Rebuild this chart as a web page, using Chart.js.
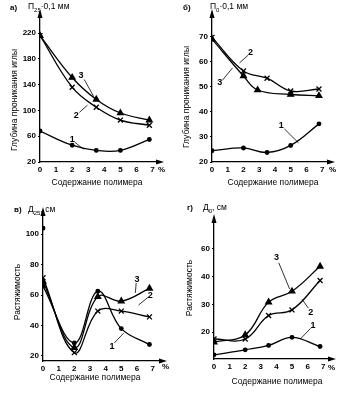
<!DOCTYPE html>
<html><head><meta charset="utf-8">
<script src="https://cdn.jsdelivr.net/npm/chart.js@4"></script>
<style>
body{margin:0;background:#fff;width:359px;height:395px;position:relative;overflow:hidden}
canvas{position:absolute}
</style></head><body>
<canvas id="ca" width="180" height="197" style="left:0;top:0"></canvas>
<canvas id="cb" width="179" height="197" style="left:180px;top:0"></canvas>
<canvas id="cv" width="180" height="198" style="left:0;top:197px"></canvas>
<canvas id="cg" width="179" height="198" style="left:180px;top:197px"></canvas>
<script>
// ---- data ----
const xPoly = [0, 2, 3.5, 5, 6.8];
const xTicks = [0, 1, 2, 3, 4, 5, 6, 7];

// a) П25
const a1 = [68, 46, 38, 38, 55];
const a2 = [216, 136, 105, 85, 77];
const a3 = [216, 151, 117, 96, 85];
const aTicks = [20, 60, 100, 140, 180, 220];

// б) П0
const b1 = [24.5, 25.6, 23.8, 26.6, 35.2];
const b2 = [69.7, 56.3, 53.4, 48.3, 49.1];
const xB3 = [0, 2, 2.9, 5, 6.8];
const b3 = [69, 54.3, 48.7, 46.9, 46.4];
const bTicks = [20, 30, 40, 50, 60, 70];

// в) Д25
const v1 = [66, 28.6, 62.6, 38, 27.5];
const v1Start = 104;
const v2 = [71.4, 22.2, 49.5, 49.5, 45.7];
const v3 = [69, 25.5, 59, 56, 64.4];
const vTicks = [20, 40, 60, 80, 100];

// г) Д0
const g1 = [11.8, 13.6, 15.2, 18.1, 14.8];
const g2 = [17.5, 17.5, 26, 28, 38.6];
const g3 = [16.4, 19, 30.8, 34.7, 43.7];
const gTickVals = [20, 30, 40, 50];
const gTickLabels = ['20', '30', '40', '60'];

const pts = (xs, ys) => xs.map((x, i) => ({x, y: ys[i]}));
const FONT = '"Liberation Sans", Arial, sans-serif';

function ds(data, style, line = true) {
  const st = {
    1: {pointStyle: 'circle', pointRadius: 1.8},
    2: {pointStyle: 'crossRot', pointRadius: 3.5},
    3: {pointStyle: 'triangle', pointRadius: 3.3}
  }[style];
  return Object.assign({
    data, showLine: line, borderColor: '#000', backgroundColor: '#000',
    borderWidth: 1.3, tension: 0.4, pointBorderColor: '#000',
    pointBackgroundColor: '#000', pointBorderWidth: 1.3
  }, st);
}

const deco = {
  id: 'deco',
  afterDraw(chart) {
    const o = chart.options.plugins.deco;
    const c = chart.ctx, ca = chart.chartArea;
    const xs = chart.scales.x, ys = chart.scales.y;
    c.save();
    c.strokeStyle = '#000'; c.fillStyle = '#000'; c.lineWidth = 1.3;
    // arrows
    c.beginPath();
    c.moveTo(ca.left, ca.top - 6); c.lineTo(ca.left - 2.5, ca.top + 3); c.lineTo(ca.left + 2.5, ca.top + 3); c.closePath(); c.fill();
    c.beginPath(); c.moveTo(ca.left, ca.top); c.lineTo(ca.left, ca.top - 3); c.stroke();
    c.beginPath();
    c.moveTo(ca.right + 5, ca.bottom); c.lineTo(ca.right - 3, ca.bottom - 2.5); c.lineTo(ca.right - 3, ca.bottom + 2.5); c.closePath(); c.fill();
    // leaders and curve numbers
    c.lineWidth = 0.8;
    c.font = 'bold 9px ' + FONT; c.textAlign = 'center'; c.textBaseline = 'middle';
    for (const L of o.labels) {
      const lx = xs.getPixelForValue(L.at[0]), ly = ys.getPixelForValue(L.at[1]);
      c.fillText(L.t, lx, ly);
      if (L.to) {
        const fx = xs.getPixelForValue(L.from[0]), fy = ys.getPixelForValue(L.from[1]);
        const tx = xs.getPixelForValue(L.to[0]), ty = ys.getPixelForValue(L.to[1]);
        c.beginPath(); c.moveTo(fx, fy); c.lineTo(tx, ty); c.stroke();
      }
    }
    // percent
    c.font = 'bold 8px ' + FONT; c.textAlign = 'left';
    c.fillText('%', o.pct[0], o.pct[1]);
    // x title
    c.font = '8.5px ' + FONT; c.textAlign = 'center';
    c.fillText('Содержание полимера', o.xt[0], o.xt[1]);
    // y title
    c.save(); c.translate(o.yt[0], o.yt[1]); c.rotate(-Math.PI / 2);
    c.font = '8.5px ' + FONT; c.fillText(o.ytitle, 0, 0); c.restore();
    // panel label
    c.textAlign = 'left';
    c.font = 'bold 8px ' + FONT;
    c.fillText(o.panel, o.pl[0], o.pl[1]);
    let x = o.ql[0];
    c.font = '8.5px ' + FONT;
    c.fillText(o.q[0], x, o.ql[1]); x += c.measureText(o.q[0]).width;
    c.font = '6px ' + FONT;
    c.fillText(o.q[1], x, o.ql[1] + 3); x += c.measureText(o.q[1]).width;
    c.font = '8.5px ' + FONT;
    c.fillText(o.q[2], x, o.ql[1]);
    c.restore();
  }
};

function make(id, datasets, cfg) {
  return new Chart(document.getElementById(id), {
    type: 'scatter',
    data: {datasets},
    plugins: [deco],
    options: {
      responsive: false, animation: false, devicePixelRatio: 1,
      layout: {padding: cfg.pad},
      plugins: {legend: {display: false}, tooltip: {enabled: false}, deco: cfg.deco},
      scales: {
        x: {
          type: 'linear', min: 0, max: cfg.xmax,
          afterFit: s => { s.height = cfg.xh; },
          afterBuildTicks: s => { s.ticks = xTicks.map(v => ({value: v})); },
          ticks: {color: '#000', font: {size: 8, weight: 'bold', family: FONT}, padding: 3,
                  callback: v => String(v)},
          grid: {display: false, drawOnChartArea: false, drawTicks: false, tickLength: 0},
          border: {color: '#000', width: 1.3}
        },
        y: {
          type: 'linear', min: cfg.ymin, max: cfg.ymax,
          afterFit: s => { s.width = cfg.yw; },
          afterBuildTicks: s => { s.ticks = cfg.yticks.map(v => ({value: v})); },
          ticks: {color: '#000', font: {size: 8, weight: 'bold', family: FONT}, padding: 2,
                  callback: cfg.ycb || (v => String(v))},
          grid: {display: true, drawOnChartArea: false, tickLength: 2, color: '#000', lineWidth: 1},
          border: {color: '#000', width: 1.3}
        }
      }
    }
  });
}

make('ca', [ds(pts(xPoly, a1), 1), ds(pts(xPoly, a2), 2), ds(pts(xPoly, a3), 3)], {
  pad: {left: 0, top: 15, right: 21, bottom: 0}, xh: 35, yw: 40,
  xmax: 7.4, ymin: 20, ymax: 248, yticks: aTicks,
  deco: {
    labels: [
      {t: '3', at: [2.55, 154], from: [2.75, 148], to: [3.35, 121]},
      {t: '2', at: [2.25, 92], from: [2.45, 97], to: [2.95, 108]},
      {t: '1', at: [2.0, 55], from: [2.15, 51], to: [2.7, 40]}
    ],
    pct: [158, 170], xt: [97, 183], yt: [15, 100], ytitle: 'Глубина проникания иглы',
    panel: 'а)', pl: [10, 8], q: ['П', '25', '·0,1 мм'], ql: [28, 7]
  }
});

make('cb', [ds(pts(xPoly, b1), 1), ds(pts(xPoly, b2), 2), ds(pts(xB3, b3), 3)], {
  pad: {left: 0, top: 15, right: 29, bottom: 0}, xh: 35, yw: 32,
  xmax: 7.5, ymin: 20, ymax: 78.6, yticks: bTicks,
  deco: {
    labels: [
      {t: '2', at: [2.45, 63.6], from: [2.3, 62.6], to: [1.75, 59.5]},
      {t: '3', at: [0.5, 51.5], from: [0.65, 52.5], to: [1.3, 57.5]},
      {t: '1', at: [4.4, 34.5], from: [4.6, 33.2], to: [5.5, 27.6]}
    ],
    pct: [149, 170], xt: [93, 183], yt: [7, 97], ytitle: 'Глубина проникания иглы',
    panel: 'б)', pl: [3, 8], q: ['П', '0', '·0,1 мм'], ql: [30, 7]
  }
});

make('cv', [ds(pts(xPoly, v1), 1), ds(pts(xPoly, v2), 2), ds(pts(xPoly, v3), 3),
            ds([{x: 0, y: v1Start}], 1, false)], {
  pad: {left: 0, top: 16, right: 18, bottom: 0}, xh: 34, yw: 43,
  xmax: 7.6, ymin: 16.7, ymax: 114, yticks: vTicks,
  deco: {
    labels: [
      {t: '3', at: [6.0, 70], from: [5.95, 68], to: [5.9, 61.5]},
      {t: '2', at: [6.85, 60], from: [6.7, 58.5], to: [6.1, 53.5]},
      {t: '1', at: [4.4, 26.5], from: [4.55, 28.5], to: [5.15, 35]}
    ],
    pct: [162, 170], xt: [95, 181], yt: [18, 95], ytitle: 'Растяжимость',
    panel: 'в)', pl: [14, 13], q: ['Д', '25', ', см'], ql: [28, 13]
  }
});

make('cg', [ds(pts(xPoly, g1), 1), ds(pts(xPoly, g2), 2), ds(pts(xPoly, g3), 3)], {
  pad: {left: 0, top: 23, right: 28, bottom: 0}, xh: 36, yw: 34,
  xmax: 7.5, ymin: 10.3, ymax: 60.4, yticks: gTickVals,
  ycb: v => gTickLabels[gTickVals.indexOf(v)] ?? '',
  deco: {
    labels: [
      {t: '3', at: [4.0, 46.8], from: [4.15, 45], to: [4.85, 35.5]},
      {t: '2', at: [6.2, 27.2], from: [6.05, 28.6], to: [5.65, 31.8]},
      {t: '1', at: [6.35, 22.4], from: [6.2, 21.4], to: [5.55, 17.6]}
    ],
    pct: [148, 171], xt: [97, 185], yt: [10, 91], ytitle: 'Растяжимость',
    panel: 'г)', pl: [7, 11], q: ['Д', '0', ', см'], ql: [23, 11]
  }
});
</script>
</body></html>
